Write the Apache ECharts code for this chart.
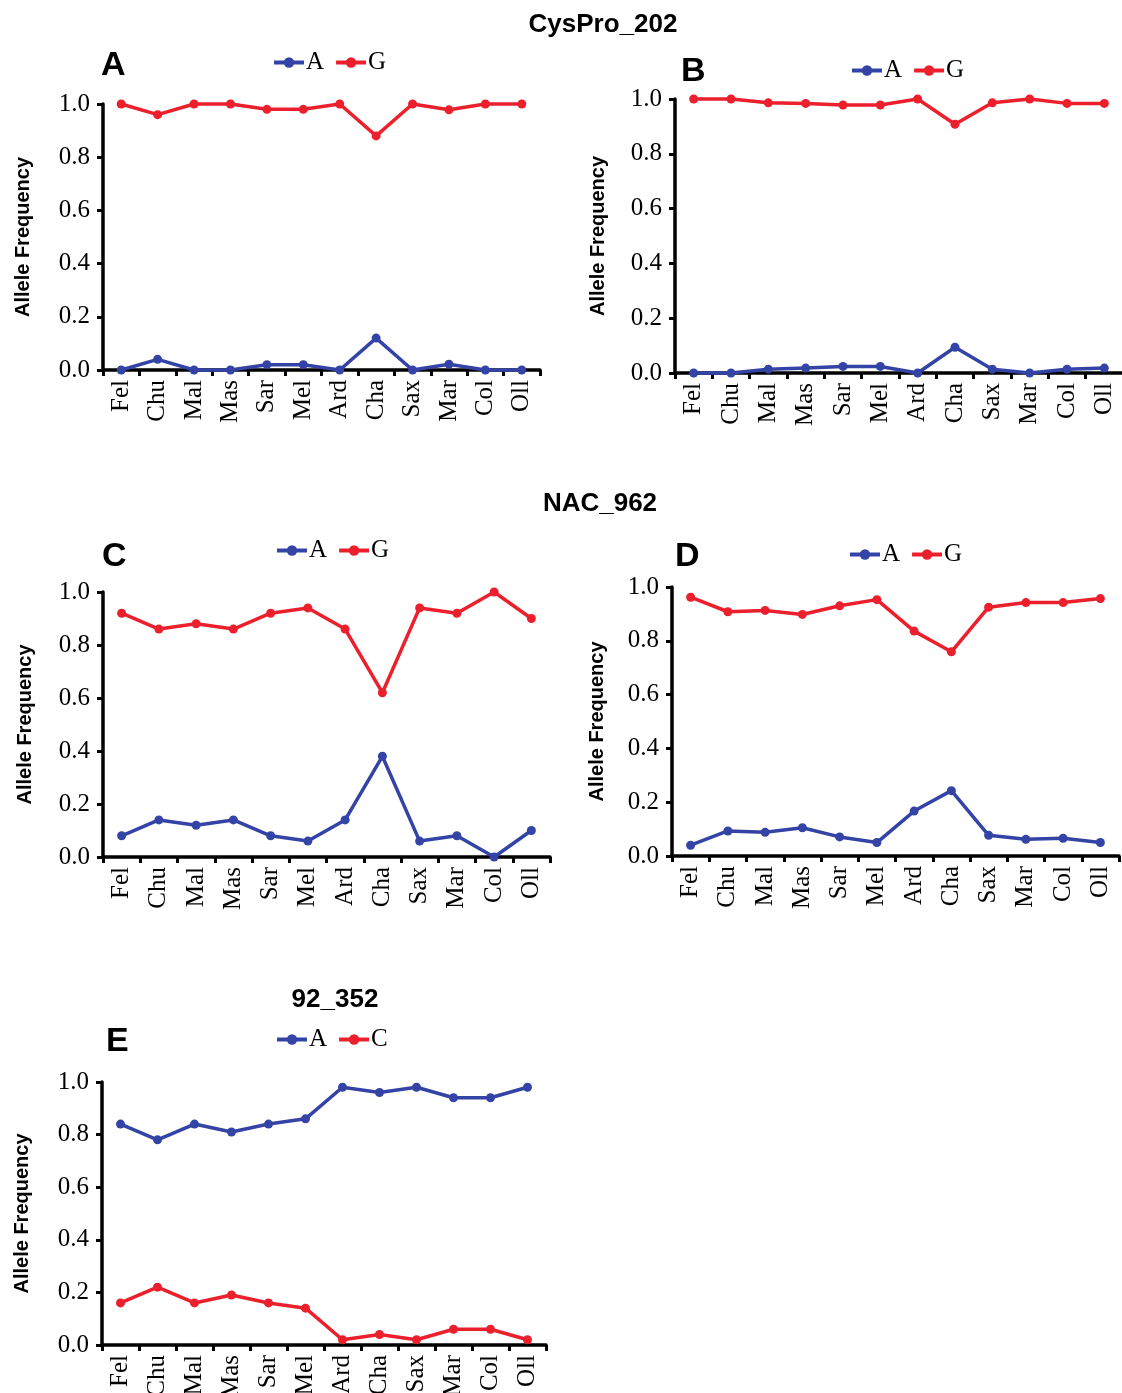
<!DOCTYPE html>
<html>
<head>
<meta charset="utf-8">
<script src="https://cdn.jsdelivr.net/npm/echarts@6/dist/echarts.min.js"></script>
<style>
  html, body { margin: 0; padding: 0; background: #fff; }
  #chart { width: 1122px; height: 1393px; }
</style>
</head>
<body>
<div id="chart"></div>
<script>
// Populations along the x axis
const populations = ['Fel', 'Chu', 'Mal', 'Mas', 'Sar', 'Mel', 'Ard', 'Cha', 'Sax', 'Mar', 'Col', 'Oll'];
const yTickValues = [0, 0.2, 0.4, 0.6, 0.8, 1.0];

// CysPro_202, panel A
const cysProA_A = [0.00, 0.04, 0.00, 0.00, 0.02, 0.02, 0.00, 0.12, 0.00, 0.022, 0.00, 0.00];
const cysProA_G = [1.00, 0.96, 1.00, 1.00, 0.98, 0.98, 1.00, 0.88, 1.00, 0.978, 1.00, 1.00];
// CysPro_202, panel B
const cysProB_A = [0.00, 0.00, 0.014, 0.018, 0.024, 0.024, 0.00, 0.094, 0.014, 0.00, 0.014, 0.018];
const cysProB_G = [1.00, 1.00, 0.986, 0.984, 0.978, 0.978, 1.00, 0.908, 0.986, 1.00, 0.984, 0.984];
// NAC_962, panel C
const nacC_A = [0.08, 0.14, 0.12, 0.14, 0.08, 0.06, 0.14, 0.38, 0.06, 0.08, 0.00, 0.10];
const nacC_G = [0.92, 0.86, 0.88, 0.86, 0.92, 0.94, 0.86, 0.62, 0.94, 0.92, 1.00, 0.90];
// NAC_962, panel D
const nacD_A = [0.040, 0.093, 0.088, 0.105, 0.071, 0.050, 0.167, 0.243, 0.077, 0.062, 0.066, 0.050];
const nacD_G = [0.962, 0.908, 0.913, 0.898, 0.930, 0.953, 0.836, 0.759, 0.925, 0.942, 0.942, 0.957];
// 92_352, panel E
const snpE_A = [0.84, 0.78, 0.84, 0.81, 0.84, 0.86, 0.98, 0.96, 0.98, 0.94, 0.94, 0.98];
const snpE_C = [0.16, 0.22, 0.16, 0.19, 0.16, 0.14, 0.02, 0.04, 0.02, 0.06, 0.06, 0.02];

const BLUE = '#3343a6';
const RED = '#ec1f2c';
const SERIF = 'Liberation Serif';
const SANS = 'Liberation Sans';

// Layout of the five panels
const panels = [
  { grid: { left: 103, top: 104, width: 437, height: 266 }, nameGap: 70,
    lines: [['A', cysProA_A, BLUE], ['G', cysProA_G, RED]],
    legend: { left: 272, top: 50 }, letter: { text: 'A', left: 96, top: 44 } },
  { grid: { left: 675, top: 99, width: 448, height: 274 }, nameGap: 67,
    lines: [['A', cysProB_A, BLUE], ['G', cysProB_G, RED]],
    legend: { left: 850, top: 58 }, letter: { text: 'B', left: 676, top: 50 } },
  { grid: { left: 103, top: 592, width: 447, height: 265 }, nameGap: 68,
    lines: [['A', nacC_A, BLUE], ['G', nacC_G, RED]],
    legend: { left: 275, top: 538 }, letter: { text: 'C', left: 97, top: 535 } },
  { grid: { left: 672, top: 587, width: 447, height: 269 }, nameGap: 65,
    lines: [['A', nacD_A, BLUE], ['G', nacD_G, RED]],
    legend: { left: 848, top: 542 }, letter: { text: 'D', left: 670, top: 535 } },
  { grid: { left: 102, top: 1082, width: 444, height: 263 }, nameGap: 70,
    lines: [['A', snpE_A, BLUE], ['C', snpE_C, RED]],
    legend: { left: 275, top: 1027 }, letter: { text: 'E', left: 101, top: 1020 } }
];

const option = {
  animation: false,
  backgroundColor: '#ffffff',
  title: [
    { text: 'CysPro_202', left: 598, top: 7, textAlign: 'center',
      textStyle: { fontFamily: SANS, fontWeight: 'bold', fontSize: 26, color: '#000' } },
    { text: 'NAC_962', left: 595, top: 486, textAlign: 'center',
      textStyle: { fontFamily: SANS, fontWeight: 'bold', fontSize: 26, color: '#000' } },
    { text: '92_352', left: 330, top: 982, textAlign: 'center',
      textStyle: { fontFamily: SANS, fontWeight: 'bold', fontSize: 26, color: '#000' } }
  ].concat(panels.map(p => ({
    text: p.letter.text, left: p.letter.left, top: p.letter.top,
    textStyle: { fontFamily: SANS, fontWeight: 'bold', fontSize: 34, color: '#000' }
  }))),
  legend: panels.map(p => ({
    left: p.legend.left, top: p.legend.top,
    data: p.lines.map(l => l[0]),
    itemWidth: 30, itemHeight: 13, itemGap: 10, padding: 0,
    selectedMode: false,
    lineStyle: { width: 4 },
    textStyle: { fontFamily: SERIF, fontSize: 25, color: '#000', padding: [0, 0, 0, -3] }
  })),
  grid: panels.map(p => Object.assign({ containLabel: false, outerBoundsMode: 'none' }, p.grid)),
  xAxis: panels.map((p, i) => ({
    type: 'category', gridIndex: i, data: populations, boundaryGap: true,
    axisLine: { show: true, lineStyle: { color: '#000', width: 3.5 } },
    axisTick: { show: true, alignWithLabel: false, length: 6, lineStyle: { color: '#000', width: 3 } },
    axisLabel: { rotate: 90, margin: 10, interval: 0, fontFamily: SERIF, fontSize: 25, color: '#000' },
    splitLine: { show: false }
  })),
  yAxis: panels.map((p, i) => ({
    type: 'value', gridIndex: i, min: 0, max: 1, interval: 0.2,
    name: 'Allele Frequency', nameLocation: 'middle', nameGap: p.nameGap,
    nameTextStyle: { fontFamily: SANS, fontWeight: 'bold', fontSize: 20, color: '#000' },
    axisLine: { show: true, lineStyle: { color: '#000', width: 3.5 } },
    axisTick: { show: true, length: 6, lineStyle: { color: '#000', width: 3 } },
    axisLabel: { margin: 13, fontFamily: SERIF, fontSize: 25, color: '#000',
      formatter: v => yTickValues.some(t => Math.abs(t - v) < 1e-9) ? v.toFixed(1) : '' },
    splitLine: { show: false }
  })),
  series: []
};

panels.forEach((p, i) => {
  p.lines.forEach(([name, values, color]) => {
    option.series.push({
      type: 'line', name, data: values,
      xAxisIndex: i, yAxisIndex: i,
      color,
      symbol: 'circle', symbolSize: 9,
      lineStyle: { width: 3.5, color },
      itemStyle: { color },
      clip: false
    });
  });
});

const chart = echarts.init(document.getElementById('chart'), null, { renderer: 'canvas' });
chart.setOption(option);
</script>
</body>
</html>
